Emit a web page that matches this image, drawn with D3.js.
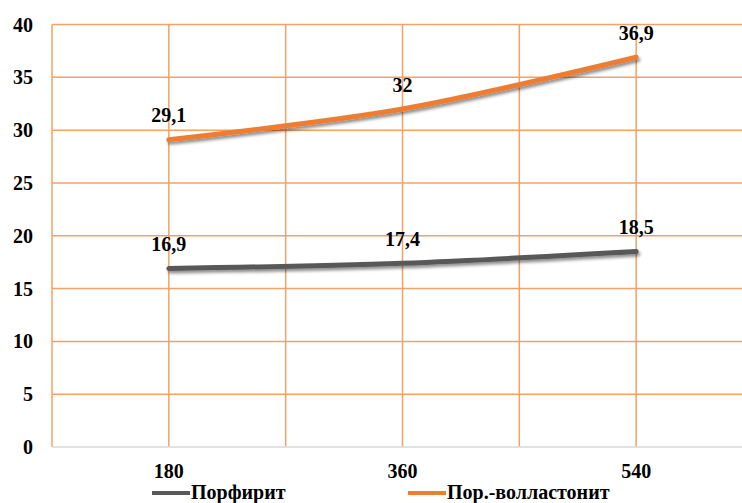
<!DOCTYPE html>
<html>
<head>
<meta charset="utf-8">
<script src="https://cdn.jsdelivr.net/npm/d3@7"></script>
<style>
  html, body { margin: 0; padding: 0; background: #fff; }
</style>
</head>
<body>
<svg id="chart" width="742" height="503"></svg>
<script>
const categories = [180, 360, 540];
const seriesNames = ["Порфирит", "Пор.-волластонит"];
const porphyrite = [16.9, 17.4, 18.5];
const wollastonite = [29.1, 32, 36.9];
const valueLabels = [["16,9", "17,4", "18,5"], ["29,1", "32", "36,9"]];
const yTicks = [0, 5, 10, 15, 20, 25, 30, 35, 40];
const xGrid = [90, 180, 270, 360, 450, 540, 630];
const colors = ["#595959", "#ED7D31"];

const FONT = "'Liberation Serif'";

const svg = d3.select("#chart");
const W = 742, H = 503;
const plot = { left: 52, top: 24.5, bottom: 447, right: 753 };

const x = d3.scaleLinear().domain([90, 630]).range([plot.left, plot.right]);
const y = d3.scaleLinear().domain([0, 40]).range([plot.bottom, plot.top]);

const label = (sel, size = 20) => sel.style("font-family", FONT).style("font-weight", "bold")
  .style("font-size", size + "px").attr("fill", "#000");

// drop shadow for the series lines
const defs = svg.append("defs");
const f = defs.append("filter").attr("id", "shadow")
  .attr("x", "-10%").attr("y", "-50%").attr("width", "120%").attr("height", "200%");
f.append("feDropShadow").attr("dx", 1.5).attr("dy", 2.5).attr("stdDeviation", 1.6)
  .attr("flood-color", "#000").attr("flood-opacity", 0.45);

const gridColor = "#F5A065";

// horizontal gridlines
svg.append("g").selectAll("line").data(yTicks.filter(d => d > 0)).join("line")
  .attr("x1", plot.left).attr("x2", W)
  .attr("y1", d => y(d)).attr("y2", d => y(d))
  .attr("stroke", gridColor).attr("stroke-width", 1.5);

// vertical gridlines
svg.append("g").selectAll("line").data(xGrid).join("line")
  .attr("x1", d => x(d)).attr("x2", d => x(d))
  .attr("y1", plot.top).attr("y2", plot.bottom)
  .attr("stroke", gridColor).attr("stroke-width", 1.5);

// baseline axis
svg.append("line").attr("x1", plot.left).attr("x2", W)
  .attr("y1", plot.bottom).attr("y2", plot.bottom)
  .attr("stroke", "#D9D9D9").attr("stroke-width", 1.5);

// y tick labels
svg.append("g").selectAll("text").data(yTicks).join("text")
  .attr("x", 33).attr("y", d => y(d) + 7)
  .attr("text-anchor", "end").call(label, 20)
  .text(d => d);

// x tick labels
svg.append("g").selectAll("text").data(categories).join("text")
  .attr("x", d => x(d)).attr("y", 478)
  .attr("text-anchor", "middle").call(label, 20)
  .text(d => d);

// series lines with value labels
const line = d3.line().x((d, i) => x(categories[i])).y(d => y(d)).curve(d3.curveCatmullRom.alpha(0.5));
[porphyrite, wollastonite].forEach((vals, s) => {
  svg.append("path").datum(vals)
    .attr("d", line)
    .attr("fill", "none")
    .attr("stroke", colors[s])
    .attr("stroke-width", 5)
    .attr("stroke-linecap", "round")
    .attr("filter", "url(#shadow)");
  svg.append("g").selectAll("text").data(vals).join("text")
    .attr("x", (d, i) => x(categories[i]))
    .attr("y", d => y(d) - 17.5)
    .attr("text-anchor", "middle").call(label, 20)
    .text((d, i) => valueLabels[s][i]);
});

// legend
const legendX = [152, 408];
seriesNames.forEach((name, s) => {
  svg.append("line")
    .attr("x1", legendX[s]).attr("x2", legendX[s] + 38)
    .attr("y1", 493).attr("y2", 493)
    .attr("stroke", colors[s]).attr("stroke-width", 4);
  svg.append("text")
    .attr("x", legendX[s] + 39).attr("y", 499)
    .call(label, 20)
    .text(name);
});
</script>
</body>
</html>
